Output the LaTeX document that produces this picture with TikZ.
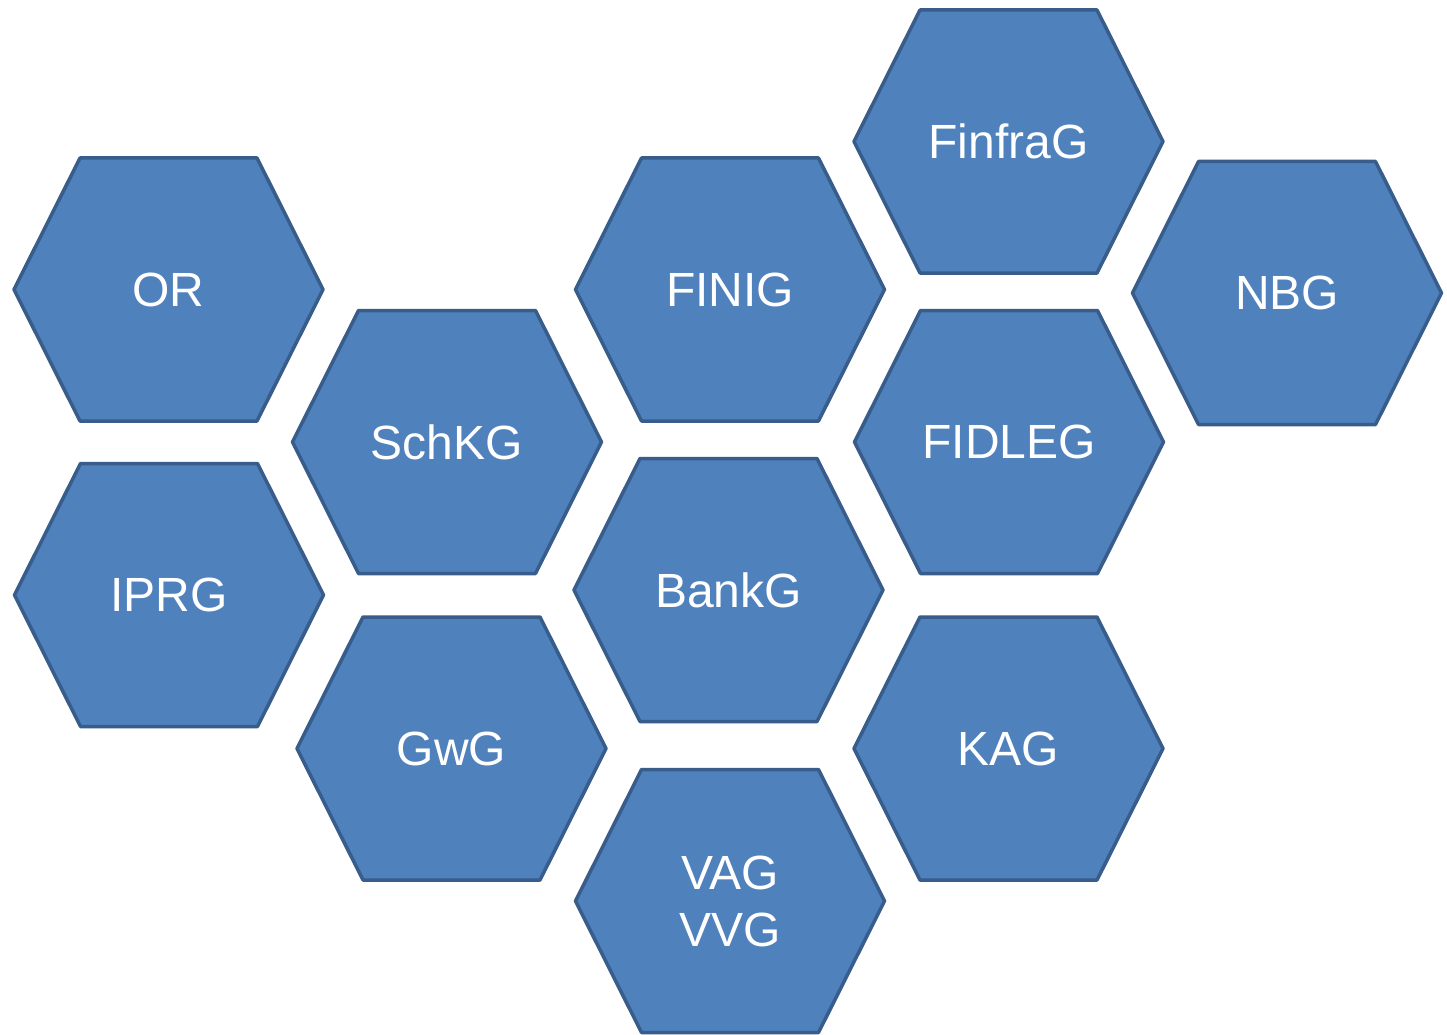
\documentclass[tikz,border=0pt]{standalone}
\usepackage{fontspec}
\setmainfont{Liberation Sans}
\definecolor{hexfill}{HTML}{4F81BD}
\definecolor{hexline}{HTML}{385D8A}
\tikzset{
  hexa/.style={fill=hexfill, draw=hexline, line width=3.5pt, line join=round},
  lbl/.style={text=white, inner sep=0pt, align=center, font=\fontsize{48}{57}\selectfont}
}
\newcommand\hexnode[4]{%
  \draw[hexa, shift={(#2,#3)}] (-154.5,0) -- (-88.5,-131.5) -- (88.5,-131.5) -- (154.5,0) -- (88.5,131.5) -- (-88.5,131.5) -- cycle;
  \node[lbl] (#1) at (#2,#3) {#4};}
\begin{document}
\begin{tikzpicture}[x=1pt,y=-1pt]
\useasboundingbox[fill=white] (0,0) rectangle (1447,1035);
\hexnode{or}{168.5}{289.5}{OR}
\hexnode{iprg}{169}{595}{IPRG}
\hexnode{schkg}{447}{442}{SchKG}
\hexnode{gwg}{451.5}{748.5}{GwG}
\hexnode{finig}{730}{289.5}{FINIG}
\hexnode{bankg}{728.5}{590}{BankG}
\hexnode{vag}{730}{901}{VAG\\VVG}
\hexnode{finfrag}{1008.5}{141.5}{FinfraG}
\hexnode{fidleg}{1009}{442}{FIDLEG}
\hexnode{kag}{1008.5}{748.5}{KAG}
\hexnode{nbg}{1287}{293}{NBG}
\end{tikzpicture}
\end{document}
